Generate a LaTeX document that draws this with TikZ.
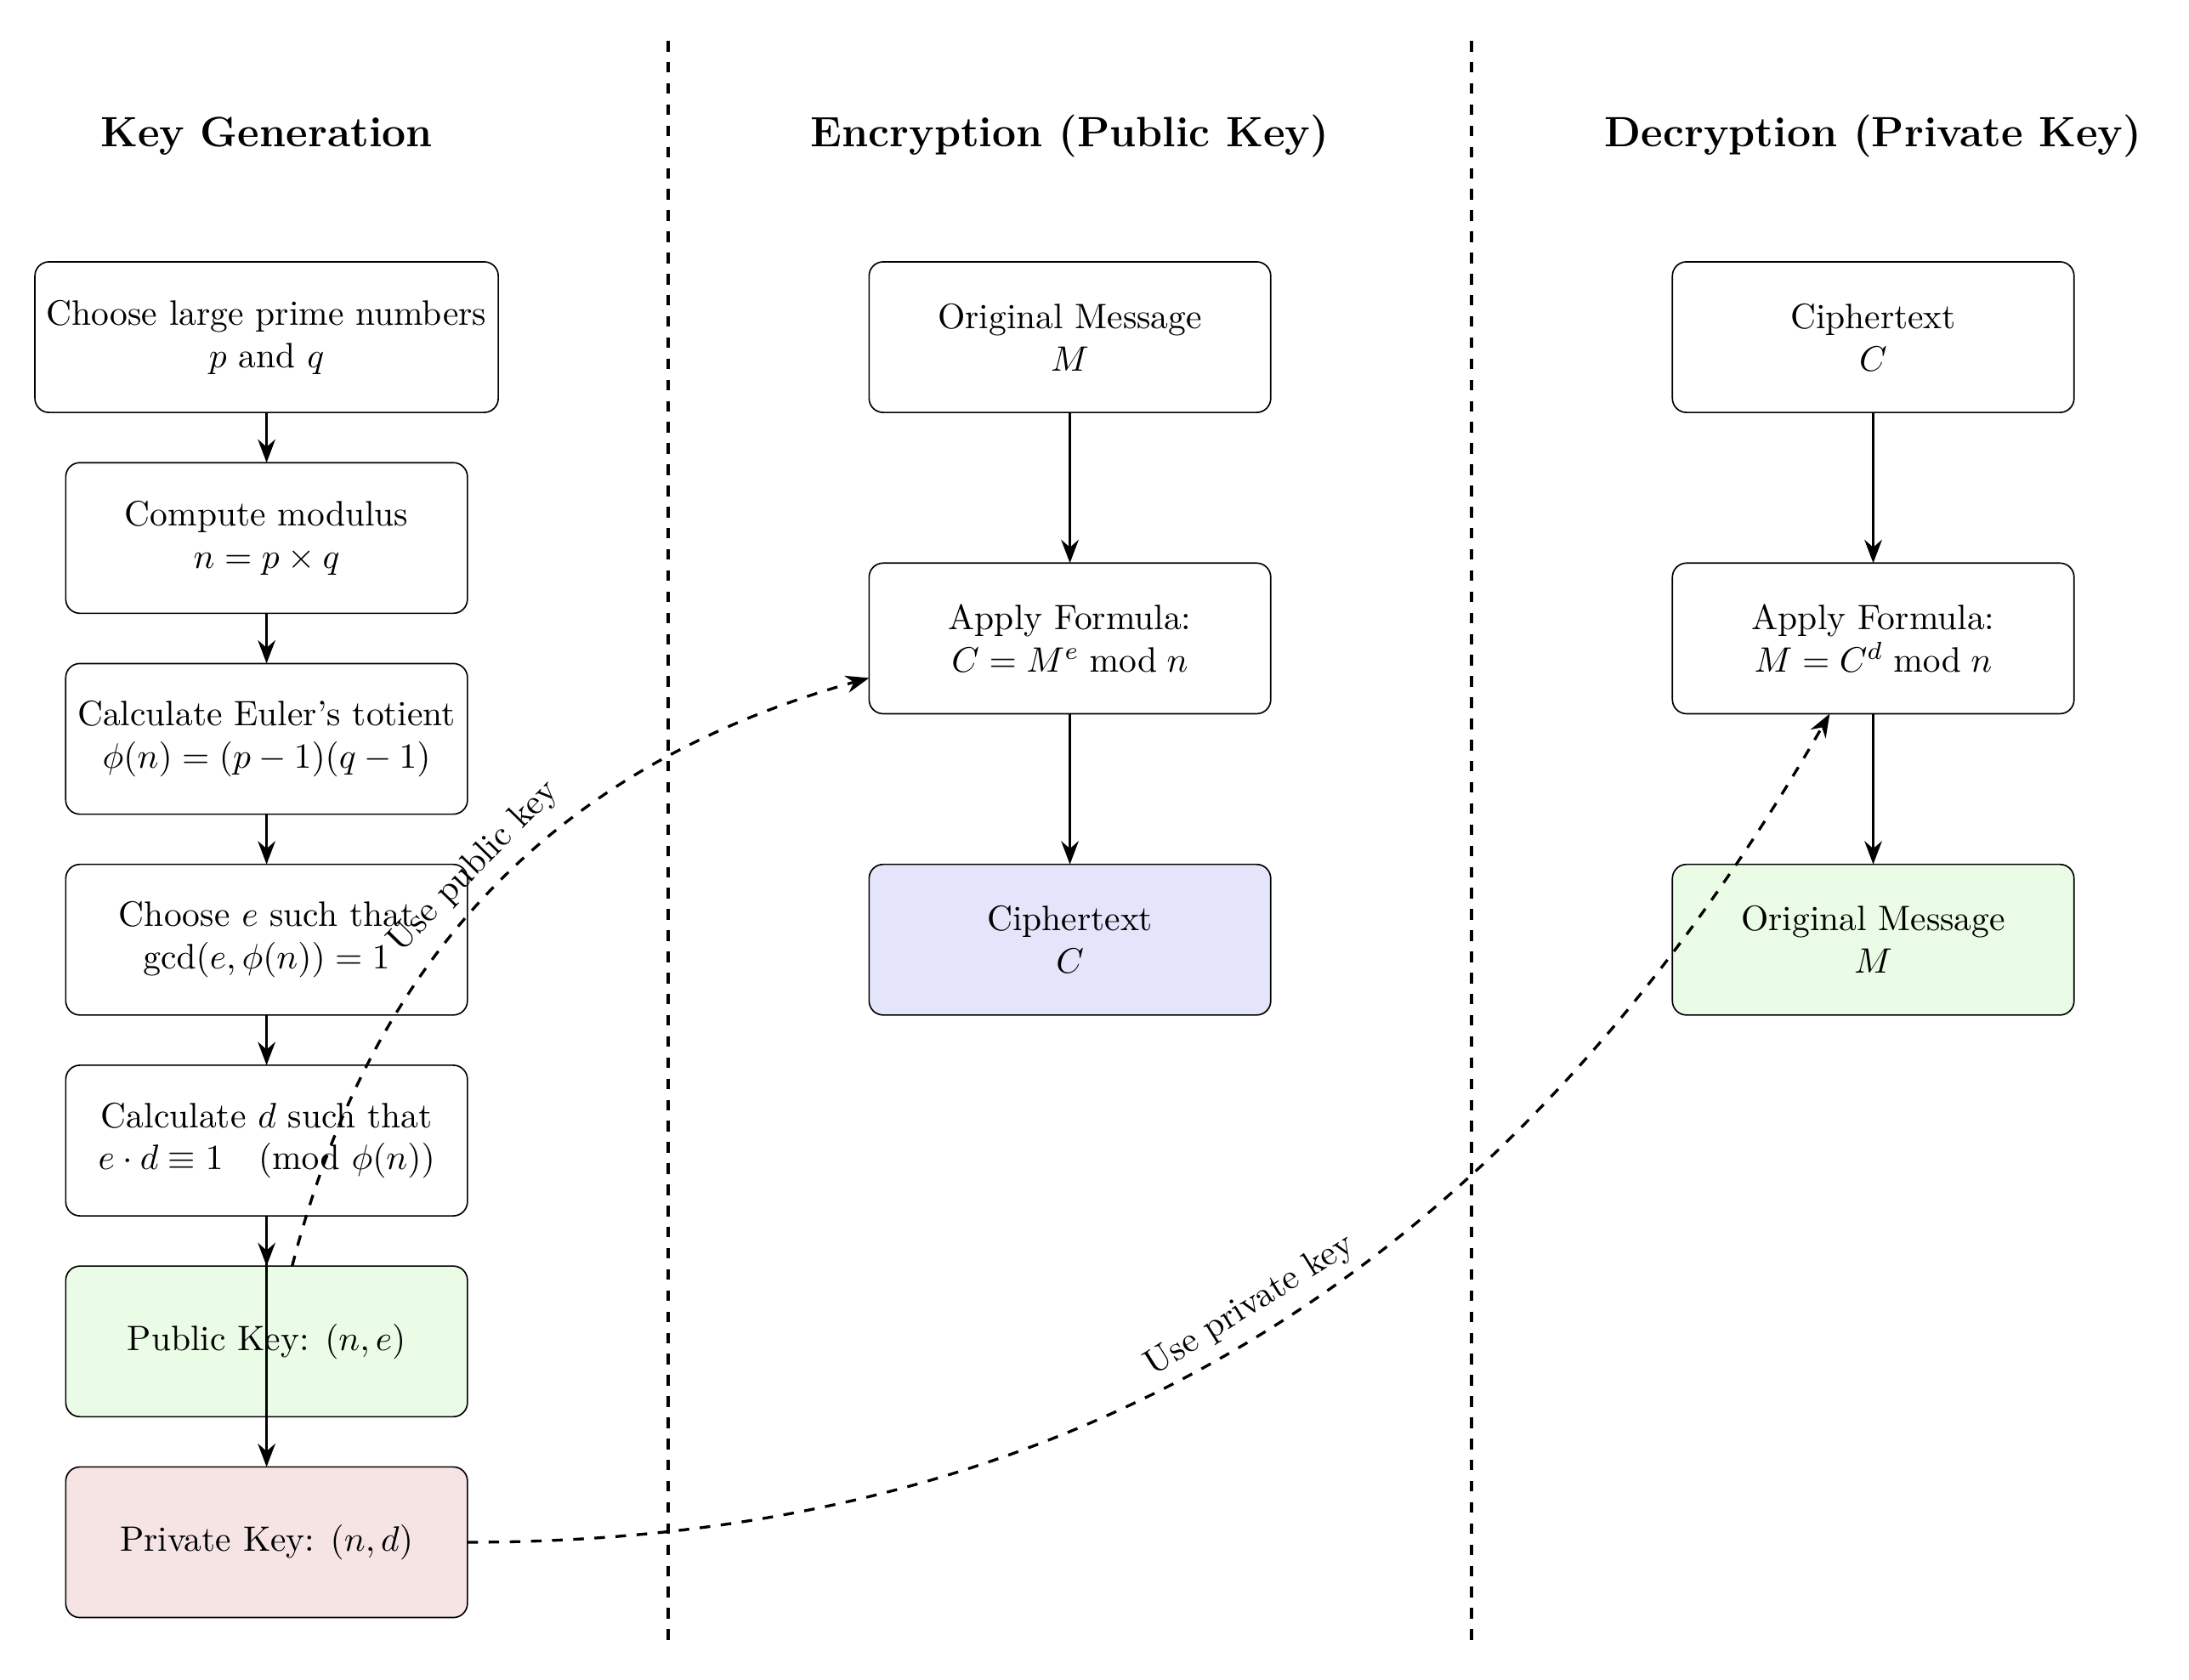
\documentclass[tikz,border=0pt]{standalone}
\usepackage{amssymb}
\usepackage{xcolor}
\usepackage{tikz}
\usetikzlibrary{arrows.meta,positioning}

\definecolor{pubfill}{RGB}{234,252,230}
\definecolor{privfill}{RGB}{246,228,229}
\definecolor{cipherfill}{RGB}{228,228,250}

\begin{document}
\begin{tikzpicture}[>=Stealth,
  box/.style={draw,rounded corners,minimum width=4cm,minimum height=1.5cm,align=center,outer sep=0pt},
  title/.style={font=\large\bfseries},
  flow/.style={->,thick},
  link/.style={->,thick,dashed}]
\useasboundingbox (-2.655,-13.365) rectangle (19.145,3.357);

% column titles
\node[title] (tk) at (0,2) {Key Generation};
\node[title] (te) at (8,2) {Encryption (Public Key)};
\node[title] (td) at (16,2) {Decryption (Private Key)};

% separators
\draw[thick,dashed] (4,2.95) -- (4,-13.03);
\draw[thick,dashed] (12,2.95) -- (12,-13.03);

% key generation
\node[box] (k1) at (0,0) {Choose large prime numbers\\ $p$ and $q$};
\node[box,below=0.5cm of k1] (k2) {Compute modulus\\ $n = p \times q$};
\node[box,below=0.5cm of k2] (k3) {Calculate Euler's totient\\ $\phi(n) = (p-1)(q-1)$};
\node[box,below=0.5cm of k3] (k4) {Choose $e$ such that\\ $\gcd(e, \phi(n)) = 1$};
\node[box,below=0.5cm of k4] (k5) {Calculate $d$ such that\\ $e \cdot d \equiv 1 \pmod{\phi(n)}$};
\node[box,fill=pubfill,below=0.5cm of k5] (pub) {Public Key: $(n, e)$};
\node[box,fill=privfill,below=0.5cm of pub] (priv) {Private Key: $(n, d)$};

% encryption
\node[box] (e1) at (8,0) {Original Message\\ $M$};
\node[box,below=1.5cm of e1] (e2) {Apply Formula:\\ $C = M^e \bmod n$};
\node[box,fill=cipherfill,below=1.5cm of e2] (e3) {Ciphertext\\ $C$};

% decryption
\node[box] (d1) at (16,0) {Ciphertext\\ $C$};
\node[box,below=1.5cm of d1] (d2) {Apply Formula:\\ $M = C^d \bmod n$};
\node[box,fill=pubfill,below=1.5cm of d2] (d3) {Original Message\\ $M$};

\draw[flow] (k1) -- (k2);
\draw[flow] (k2) -- (k3);
\draw[flow] (k3) -- (k4);
\draw[flow] (k4) -- (k5);
\draw[flow] (k5) -- (pub);
\draw[flow] (k5) -- (priv);
\draw[flow] (e1) -- (e2);
\draw[flow] (e2) -- (e3);
\draw[flow] (d1) -- (d2);
\draw[flow] (d2) -- (d3);

\draw[link] (pub) to[bend left=30] node[sloped,above] {Use public key} (e2);
\draw[link] (priv.east) to[out=0,in=240] node[sloped,above] {Use private key} (d2.240);
\end{tikzpicture}
\end{document}
